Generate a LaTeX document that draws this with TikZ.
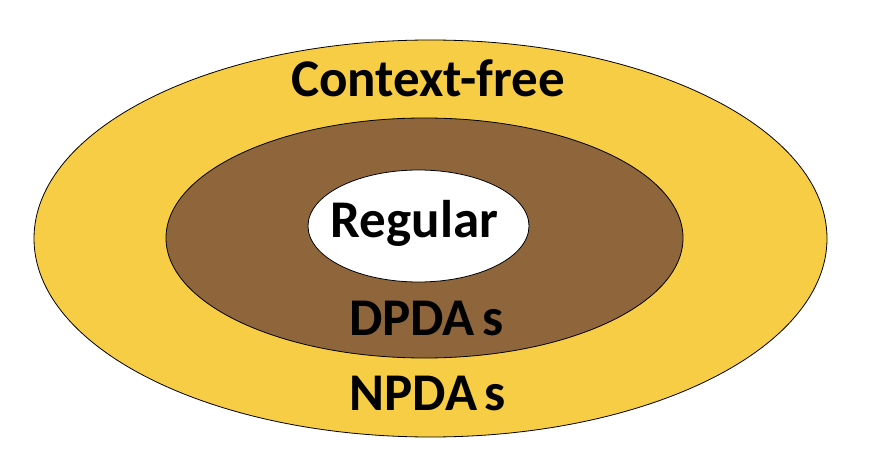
\documentclass[tikz,border=0pt]{standalone}
\usepackage{fontspec}
\setmainfont{Carlito}
\usetikzlibrary{shapes.geometric}
\definecolor{cfyellow}{HTML}{F6CD45}
\definecolor{dpbrown}{HTML}{8F653B}
\tikzset{
  set/.style={ellipse,draw=black,line width=0.8pt,inner sep=0pt},
  lbl/.style={anchor=base,inner sep=0pt,text=black,font=\fontsize{53}{60}\selectfont\bfseries}
}
\begin{document}
\begin{tikzpicture}[x=1pt,y=-1pt]
\useasboundingbox (0,0) rectangle (872,470);
% sets, outer to inner
\node [set,fill=cfyellow,minimum width=793pt,minimum height=397pt] (cf) at (430.5,238.5) {};
\node [set,fill=dpbrown,minimum width=517pt,minimum height=240pt] (dpda) at (424.5,238) {};
\node [set,fill=white,minimum width=221pt,minimum height=112pt] (reg) at (418.5,226) {};
% labels (x,baseline)
\node [lbl] (cflbl) at (428,97) {Context-free};
\node [lbl] (reglbl) at (414.5,238) {Regular};
\node [lbl] (dpdalbl) at (426.5,335) {DPDA \kern-0.08em s};
\node [lbl] (npdalbl) at (428,410) {NPDA \kern-0.08em s};
\end{tikzpicture}
\end{document}
